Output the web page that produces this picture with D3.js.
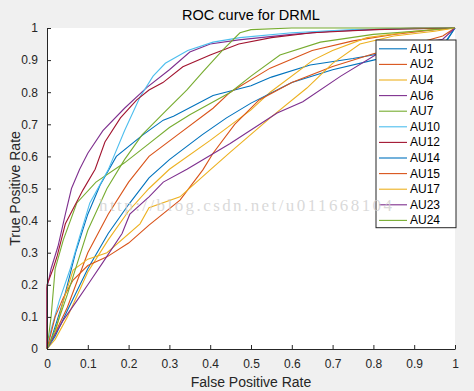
<!DOCTYPE html>
<html>
<head>
<meta charset="utf-8">
<script src="https://cdnjs.cloudflare.com/ajax/libs/d3/7.8.5/d3.min.js"></script>
<style>
body { margin: 0; background: #f0f0f0; }
svg { display: block; font-family: "Liberation Sans", Arial, sans-serif; }
.axis path, .axis line { stroke: #262626; }
.axis text { fill: #262626; font-size: 12px; }
</style>
</head>
<body>
<svg id="chart" width="474" height="391"></svg>
<script>
// [fpr, tpr] points
var au1  = [[0,0],[0.01,0.03],[0.04,0.15],[0.07,0.3],[0.1,0.42],[0.13,0.51],[0.17,0.6],[0.235,0.667],[0.285,0.713],[0.31,0.725],[0.407,0.79],[0.5,0.82],[0.55,0.847],[0.645,0.885],[0.75,0.905],[0.816,0.92],[0.9,0.94],[0.975,0.955],[1,1]];
var au2  = [[0,0],[0.02,0.05],[0.05,0.13],[0.1,0.3],[0.15,0.42],[0.2,0.52],[0.25,0.6],[0.32,0.667],[0.407,0.75],[0.449,0.8],[0.547,0.875],[0.65,0.93],[0.75,0.96],[0.85,0.98],[0.95,0.995],[1,1]];
var au4  = [[0,0],[0.02,0.03],[0.05,0.1],[0.1,0.24],[0.15,0.34],[0.2,0.43],[0.25,0.5],[0.3,0.56],[0.4,0.65],[0.5,0.745],[0.547,0.8],[0.652,0.9],[0.7,0.93],[0.784,0.97],[0.9,0.99],[1,1]];
var au6  = [[0,0],[0,0.19],[0.01,0.25],[0.027,0.32],[0.045,0.42],[0.06,0.5],[0.08,0.56],[0.1,0.61],[0.137,0.68],[0.19,0.75],[0.245,0.815],[0.3,0.87],[0.35,0.925],[0.4,0.95],[0.47,0.963],[0.6,0.98],[0.7,0.99],[0.8,0.995],[0.9,1],[1,1]];
var au7  = [[0,0],[0.01,0.1],[0.02,0.25],[0.04,0.34],[0.073,0.455],[0.12,0.52],[0.19,0.58],[0.25,0.64],[0.3,0.69],[0.35,0.73],[0.45,0.8],[0.5,0.85],[0.571,0.916],[0.67,0.956],[0.8,0.98],[0.9,0.99],[1,1]];
var au10 = [[0,0],[0.01,0.06],[0.03,0.15],[0.056,0.246],[0.08,0.35],[0.105,0.455],[0.15,0.558],[0.19,0.68],[0.228,0.785],[0.26,0.85],[0.29,0.89],[0.345,0.93],[0.407,0.956],[0.473,0.97],[0.6,0.985],[0.75,0.995],[1,1]];
var au12 = [[0,0],[0,0.2],[0.015,0.25],[0.025,0.29],[0.045,0.39],[0.088,0.495],[0.118,0.56],[0.142,0.645],[0.18,0.72],[0.22,0.776],[0.25,0.807],[0.284,0.83],[0.333,0.879],[0.4,0.916],[0.47,0.95],[0.55,0.97],[0.65,0.985],[0.8,0.995],[1,1]];
var au14 = [[0,0],[0.02,0.04],[0.05,0.12],[0.1,0.25],[0.15,0.36],[0.2,0.45],[0.25,0.533],[0.3,0.59],[0.38,0.667],[0.44,0.72],[0.5,0.766],[0.6,0.83],[0.7,0.87],[0.8,0.9],[0.9,0.93],[0.975,0.95],[1,1]];
var au15 = [[0,0],[0.02,0.1],[0.04,0.16],[0.064,0.215],[0.1,0.26],[0.147,0.287],[0.2,0.33],[0.25,0.386],[0.326,0.464],[0.382,0.558],[0.407,0.61],[0.46,0.7],[0.52,0.776],[0.6,0.83],[0.7,0.88],[0.8,0.92],[0.9,0.95],[0.97,0.975],[1,1]];
var au17 = [[0,0],[0.02,0.05],[0.04,0.15],[0.064,0.246],[0.1,0.28],[0.147,0.3],[0.228,0.39],[0.25,0.44],[0.326,0.474],[0.4,0.558],[0.45,0.614],[0.547,0.72],[0.637,0.813],[0.7,0.89],[0.767,0.95],[0.85,0.975],[0.95,0.99],[1,1]];
var au23 = [[0,0],[0.017,0.04],[0.04,0.09],[0.073,0.15],[0.1,0.2],[0.137,0.27],[0.184,0.36],[0.203,0.42],[0.25,0.474],[0.285,0.52],[0.343,0.56],[0.449,0.64],[0.564,0.735],[0.627,0.77],[0.72,0.85],[0.81,0.92],[0.9,0.95],[0.97,0.965],[1,1]];
var au24 = [[0,0],[0.02,0.06],[0.05,0.17],[0.08,0.29],[0.1,0.37],[0.147,0.5],[0.19,0.59],[0.233,0.667],[0.29,0.74],[0.343,0.807],[0.382,0.863],[0.43,0.93],[0.473,0.985],[0.5,0.995],[0.6,1],[1,1]];

var names  = ['AU1','AU2','AU4','AU6','AU7','AU10','AU12','AU14','AU15','AU17','AU23','AU24'];
var series = [au1, au2, au4, au6, au7, au10, au12, au14, au15, au17, au23, au24];
var colors = ['#0072bd','#d95319','#edb120','#7e2f8e','#77ac30','#4dbeee','#a2142f',
              '#0072bd','#d95319','#edb120','#7e2f8e','#77ac30'];
var ticks = [0, 0.1, 0.2, 0.3, 0.4, 0.5, 0.6, 0.7, 0.8, 0.9, 1];

var svg = d3.select('#chart');
var plotL = 47, plotR = 455, plotT = 28, plotB = 349;

var x = d3.scaleLinear().domain([0, 1]).range([plotL, plotR]);
var y = d3.scaleLinear().domain([0, 1]).range([plotB, plotT]);

svg.append('rect')
  .attr('x', plotL).attr('y', plotT)
  .attr('width', plotR - plotL).attr('height', plotB - plotT)
  .attr('fill', '#fff');

var line = d3.line().x(function(d) { return x(d[0]); }).y(function(d) { return y(d[1]); });

svg.append('g').selectAll('path')
  .data(series).enter().append('path')
  .attr('d', line)
  .attr('fill', 'none')
  .attr('stroke', function(d, i) { return colors[i]; })
  .attr('stroke-width', 1.1);

var fmt = function(d) { return d3.format('~g')(d); };

svg.append('g').attr('class', 'axis')
  .attr('transform', 'translate(0,' + plotB + ')')
  .call(d3.axisBottom(x).tickValues(ticks).tickFormat(fmt).tickSizeInner(-4).tickSizeOuter(0).tickPadding(10));

svg.append('g').attr('class', 'axis')
  .attr('transform', 'translate(' + plotL + ',0)')
  .call(d3.axisLeft(y).tickValues(ticks).tickFormat(fmt).tickSizeInner(-4).tickSizeOuter(0).tickPadding(9));

svg.selectAll('.axis .domain').attr('stroke-width', 1);

svg.append('text')
  .attr('x', (plotL + plotR) / 2).attr('y', 20)
  .attr('text-anchor', 'middle').attr('font-size', 14.5).attr('fill', '#000')
  .text('ROC curve for DRML');

svg.append('text')
  .attr('x', (plotL + plotR) / 2).attr('y', 387)
  .attr('text-anchor', 'middle').attr('font-size', 14).attr('fill', '#262626')
  .text('False Positive Rate');

svg.append('text')
  .attr('transform', 'translate(20,' + (plotT + plotB) / 2 + ') rotate(-90)')
  .attr('text-anchor', 'middle').attr('font-size', 14).attr('fill', '#262626')
  .text('True Positive Rate');

// legend
var lg = svg.append('g').attr('transform', 'translate(376,40)');
var rowH = 15.6;
lg.append('rect')
  .attr('width', 80).attr('height', rowH * names.length + 0.5)
  .attr('fill', '#fff').attr('stroke', '#262626').attr('stroke-width', 1);
var rows = lg.selectAll('g.row').data(names).enter().append('g')
  .attr('transform', function(d, i) { return 'translate(0,' + (rowH * i + rowH / 2 + 1) + ')'; });
rows.append('line')
  .attr('x1', 3).attr('x2', 31).attr('y1', 0).attr('y2', 0)
  .attr('stroke', function(d, i) { return colors[i]; })
  .attr('stroke-width', 1.1);
rows.append('text')
  .attr('x', 34).attr('y', 4)
  .attr('font-size', 12).attr('fill', '#000')
  .text(function(d) { return d; });

// watermark on top of everything
svg.append('text')
  .attr('x', 99).attr('y', 211)
  .attr('font-family', '"Liberation Serif", "DejaVu Serif", serif')
  .attr('font-size', 17)
  .attr('textLength', 293)
  .attr('lengthAdjust', 'spacing')
  .attr('fill', '#cfcfcf')
  .attr('fill-opacity', 0.8)
  .text('http://blog.csdn.net/u011668104');
</script>
</body>
</html>
